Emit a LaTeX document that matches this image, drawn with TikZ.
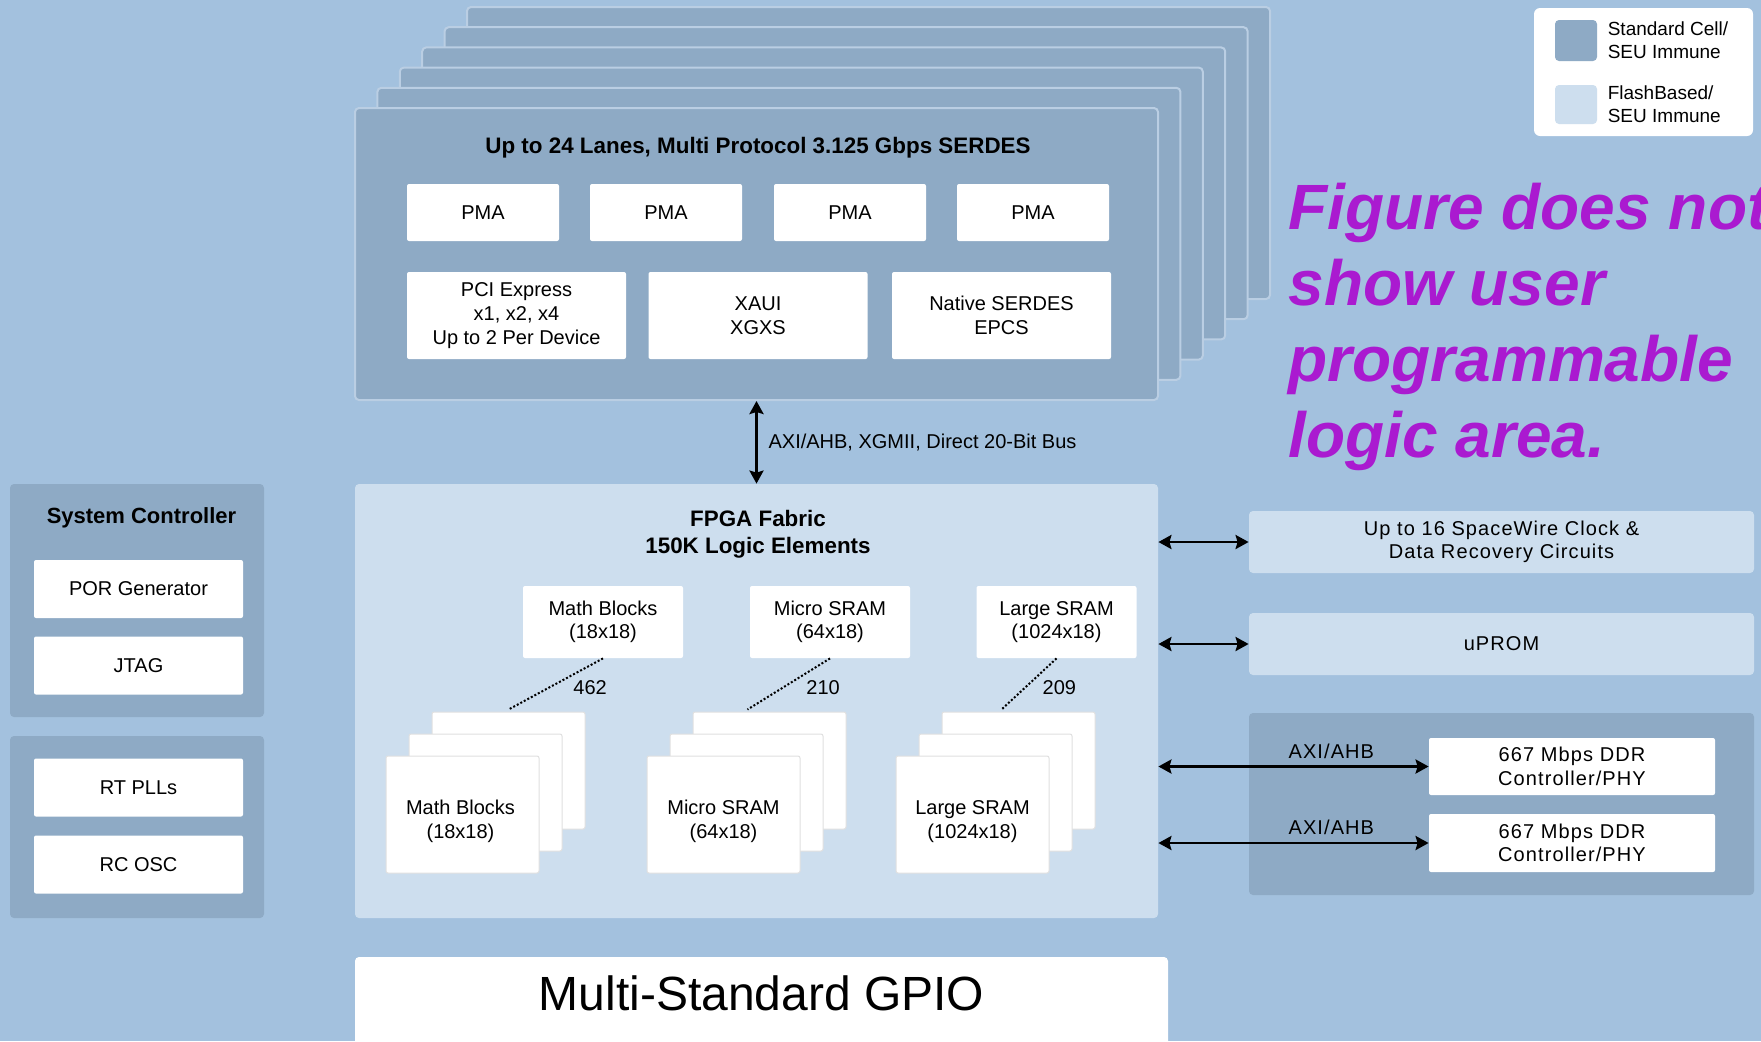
\documentclass[tikz,border=0pt]{standalone}
\usepackage{fontspec}
\setmainfont{Liberation Sans}
\newfontfamily\spacedfont[LetterSpace=5.5]{Liberation Sans}
\usetikzlibrary{positioning}
\usetikzlibrary{arrows.meta}
\usetikzlibrary{calc}

\definecolor{bgblue}{RGB}{163,193,222}
\definecolor{stdcell}{RGB}{142,170,197}
\definecolor{flash}{RGB}{205,222,238}
\definecolor{laneedge}{RGB}{186,206,227}
\definecolor{notecolor}{RGB}{170,26,208}

\tikzset{x=0.5pt, y=-0.5pt,
every node/.style={font=\fontsize{10}{11.8}\selectfont},
panel/.style={ % dark blocks (standard cell)
fill=stdcell, rounded corners=2pt, inner sep=0pt},
lane/.style={panel, draw=laneedge, line width=1pt},
flashblock/.style={ % light blocks (flash based)
fill=flash, rounded corners=2pt, inner sep=0pt, align=center},
block/.style={ % white boxes
fill=white, rounded corners=1pt, align=center, inner sep=0pt},
layer/.style={block, draw=black!12, line width=0.5pt,
minimum width=76.5pt, minimum height=58.5pt},
spaced/.style={font=\spacedfont\fontsize{10}{11.8}\selectfont},
title/.style={font=\fontsize{11.2}{13.5}\selectfont\bfseries, align=center},
bus/.style={ % Sets the properties for each bus arrow
draw, line width=1.4pt,
{Stealth[length=6.5pt,width=7pt,inset=1pt]}-{Stealth[length=6.5pt,width=7pt,inset=1pt]}},
count/.style={densely dotted, line width=1pt},
countlabel/.style={right=5pt, yshift=-2pt}}

\begin{document}
\begin{tikzpicture}
\useasboundingbox (0,0) rectangle (1761,1041);
\fill[bgblue] (0,0) rectangle (1761,1041);

% SERDES lanes, back to front
\node[lane, minimum width=401.5pt, minimum height=146pt] (lane5) at (868.5,153) {};
\node[lane, minimum width=401.5pt, minimum height=146pt] (lane4) at (846.1,173.2) {};
\node[lane, minimum width=401.5pt, minimum height=146pt] (lane3) at (823.7,193.4) {};
\node[lane, minimum width=401.5pt, minimum height=146pt] (lane2) at (801.3,213.6) {};
\node[lane, minimum width=401.5pt, minimum height=146pt] (lane1) at (778.9,233.8) {};
\node[lane, minimum width=401.5pt, minimum height=146pt] (serdes) at (756.5,254) {};
\node[title] (serdestitle) at (758,148) {Up to 24 Lanes, Multi Protocol 3.125 Gbps SERDES};
\node[block, minimum width=76pt, minimum height=28.5pt] (pma1) at (483,212.5) {PMA};
\node[block, minimum width=76pt, minimum height=28.5pt] (pma2) at (666,212.5) {PMA};
\node[block, minimum width=76pt, minimum height=28.5pt] (pma3) at (850,212.5) {PMA};
\node[block, minimum width=76pt, minimum height=28.5pt] (pma4) at (1033,212.5) {PMA};
\node[block, minimum width=109.5pt, minimum height=43.5pt] (pcie) at (516.5,315.5) {PCI Express\\x1, x2, x4\\Up to 2 Per Device};
\node[block, minimum width=109.5pt, minimum height=43.5pt] (xaui) at (758,315.5) {XAUI\\XGXS};
\node[block, minimum width=109.5pt, minimum height=43.5pt] (native) at (1001.5,315.5) {Native SERDES\\EPCS};

% FPGA fabric
\node[flashblock, minimum width=401.5pt, minimum height=217pt] (fabric) at (756.5,701) {};
\node[title] (fabrictitle) at (758,534.5) {FPGA Fabric\\150K Logic Elements};
\node[block, minimum width=80pt, minimum height=36pt] (mathtop) at (603,622) {Math Blocks\\(18x18)};
\node[block, minimum width=80pt, minimum height=36pt] (microtop) at (830,622) {Micro SRAM\\(64x18)};
\node[block, minimum width=80pt, minimum height=36pt] (largetop) at (1056.5,622) {Large SRAM\\(1024x18)};

\node[layer] (mathback) at (508.5,770.5) {};
\node[layer] (mathmid) at (485.5,792.5) {};
\node[layer] (math) at (462.5,814.5) {};
\node[align=center] (mathtext) at ($(math)+(-2,7)$) {Math Blocks\\(18x18)};
\node[layer] (microback) at (769.5,770.5) {};
\node[layer] (micromid) at (746.5,792.5) {};
\node[layer] (micro) at (723.5,814.5) {};
\node[align=center] (microtext) at ($(micro)+(0,7)$) {Micro SRAM\\(64x18)};
\node[layer] (largeback) at (1018.5,770.5) {};
\node[layer] (largemid) at (995.5,792.5) {};
\node[layer] (large) at (972.5,814.5) {};
\node[align=center] (largetext) at ($(large)+(0,7)$) {Large SRAM\\(1024x18)};

\draw[count] (mathtop.south) -- node[countlabel]{462} ($(mathback.north)+(0,-2)$);
\draw[count] (microtop.south) -- node[countlabel]{210} ($(microback.north)+(-22,-2)$);
\draw[count] (largetop.south) -- node[countlabel, right=3pt]{209} ($(largeback.north)+(-17,-2)$);

\draw[bus] (serdes.south) -- node[right=2pt]{AXI/AHB, XGMII, Direct 20-Bit Bus} (fabric.north);

% system controller and clocks
\node[panel, minimum width=127pt, minimum height=116.5pt] (sysctrl) at (137,600.5) {};
\node[font=\fontsize{11}{12}\selectfont\bfseries] (sysctrltitle) at (141.5,518) {System Controller};
\node[block, minimum width=104.5pt, minimum height=29pt] (por) at (138.5,589) {POR Generator};
\node[block, minimum width=104.5pt, minimum height=29pt] (jtag) at (138.5,665.5) {JTAG};
\node[panel, minimum width=127pt, minimum height=91pt] (clocks) at (137,827) {};
\node[block, minimum width=104.5pt, minimum height=29pt] (rtpll) at (138.5,787.5) {RT PLLs};
\node[block, minimum width=104.5pt, minimum height=29pt] (rcosc) at (138.5,864.5) {RC OSC};

% peripherals on the right
\node[flashblock, spaced, minimum width=252.5pt, minimum height=31pt] (spw) at (1501.5,542) {Up to 16 SpaceWire Clock \&\\Data Recovery Circuits};
\node[flashblock, spaced, minimum width=252.5pt, minimum height=31pt] (uprom) at (1501.5,644) {uPROM};
\node[panel, minimum width=252.5pt, minimum height=91pt] (ddrgroup) at (1501.5,804) {};
\node[block, spaced, minimum width=143pt, minimum height=28.5pt] (ddr1) at (1572,766.5) {667 Mbps DDR\\Controller/PHY};
\node[block, spaced, minimum width=143pt, minimum height=29pt] (ddr2) at (1572,843) {667 Mbps DDR\\Controller/PHY};

\draw[bus] (fabric.east |- spw) -- (spw.west);
\draw[bus] (fabric.east |- uprom) -- (uprom.west);
\draw[bus] (fabric.east |- ddr1) -- node[pos=0.64, above, spaced]{AXI/AHB} (ddr1.west);
\draw[bus] (fabric.east |- ddr2) -- node[pos=0.64, above, spaced]{AXI/AHB} (ddr2.west);

% legend
\node[block, rounded corners=3pt, minimum width=109.5pt, minimum height=64pt] (legend) at (1643.5,72) {};
\node[panel, minimum width=21pt, minimum height=20.5pt] (keystd) at (1576,40.5) {};
\node[flashblock, minimum width=21pt, minimum height=19.5pt] (keyflash) at (1576,104.5) {};
\node[right=5pt of keystd, align=left, inner sep=0pt, font=\fontsize{9.5}{11.5}\selectfont] (keystdtext) {Standard Cell/\\SEU Immune};
\node[right=5pt of keyflash, align=left, inner sep=0pt, font=\fontsize{9.5}{11.5}\selectfont] (keyflashtext) {FlashBased/\\SEU Immune};

\node[anchor=north west, align=left, inner sep=0pt, text=notecolor, font=\fontsize{32}{38}\selectfont\bfseries\itshape] (note) at (1288,183) {Figure does not\\show user\\programmable\\logic area.};

% GPIO ring
\node[block, rounded corners=2pt, minimum width=406.5pt, minimum height=46pt, text depth=10pt, font=\fontsize{24}{28}\selectfont] (gpio) at (761.5,1003) {Multi-Standard GPIO};
\end{tikzpicture}
\end{document}
